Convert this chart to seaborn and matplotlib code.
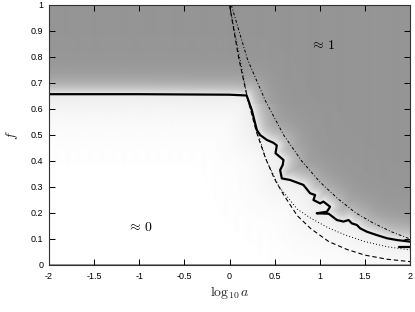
import numpy as np
import pandas as pd
import matplotlib
matplotlib.use("Agg")
import matplotlib.pyplot as plt
from matplotlib.path import Path
import seaborn as sns

# ---------------- data ----------------
# solid (jagged) boundary line: log10 a, f
bound_x = [-2.0, -1.0, 0.0, 0.19, 0.247, 0.284, 0.303, 0.339, 0.414, 0.487, 0.524,
           0.51, 0.598, 0.59, 0.561, 0.58, 0.672, 0.819, 0.893, 0.949, 0.93, 1.004,
           1.04, 1.115, 1.079, 0.967, 1.10, 1.19, 1.263, 1.319, 1.356, 1.411, 1.448,
           1.522, 1.633, 1.744, 1.855, 2.0]
bound_f = [0.657, 0.657, 0.655, 0.652, 0.596, 0.545, 0.519, 0.50, 0.481, 0.47, 0.46,
           0.43, 0.404, 0.385, 0.365, 0.333, 0.327, 0.308, 0.276, 0.269, 0.25, 0.237,
           0.244, 0.224, 0.205, 0.199, 0.197, 0.173, 0.167, 0.173, 0.16, 0.154, 0.141,
           0.128, 0.115, 0.103, 0.096, 0.09]
# short extra piece of the boundary at the right edge
tail_x = [1.88, 2.0]
tail_f = [0.07, 0.07]

# dashed curve
dash_x = [0.0, 0.1, 0.2, 0.3, 0.4, 0.5, 0.6, 0.75, 0.9, 1.1, 1.3, 1.5, 1.75, 2.0]
dash_f = [1.0, 0.80, 0.64, 0.51, 0.41, 0.33, 0.27, 0.19, 0.14, 0.09, 0.06, 0.038, 0.022, 0.013]

# dash-dot curve
dd_x = [0.02, 0.2, 0.4, 0.6, 0.8, 1.0, 1.2, 1.4, 1.6, 1.8, 2.0]
dd_f = [1.0, 0.79, 0.63, 0.50, 0.40, 0.32, 0.255, 0.20, 0.16, 0.127, 0.10]

# dotted curve
dot_x = [0.0, 0.2, 0.4, 0.55, 0.6, 0.75, 0.9, 1.1, 1.3, 1.5, 1.75, 2.0]
dot_f = [1.0, 0.64, 0.41, 0.30, 0.28, 0.215, 0.18, 0.142, 0.113, 0.09, 0.07, 0.058]

# region labels
label_text = [r"$\approx\,1$", r"$\approx\,0$"]
label_x = [1.03, -0.99]
label_f = [0.846, 0.146]

xticks = [-2, -1.5, -1, -0.5, 0, 0.5, 1, 1.5, 2]
xticklabels = ["-2", "-1.5", "-1", "-0.5", "0", "0.5", "1", "1.5", "2"]
yticks = [0, 0.1, 0.2, 0.3, 0.4, 0.5, 0.6, 0.7, 0.8, 0.9, 1]
yticklabels = ["0", "0.1", "0.2", "0.3", "0.4", "0.5", "0.6", "0.7", "0.8", "0.9", "1"]

GRAY = 0.585  # brightness of the "≈ 1" region

# ---------------- style ----------------
sns.set_style("ticks")
plt.rcParams["font.family"] = ["Liberation Sans", "DejaVu Sans"]
plt.rcParams["mathtext.fontset"] = "cm"

fig = plt.figure(figsize=(4.15, 3.12), dpi=100)
ax = fig.add_axes([49 / 415, 47 / 312, 361 / 415, 260 / 312])

# ---------------- background field built from the boundary ----------------
nx, ny = 361, 260
sx, sy = 361 / 4.0, 260.0  # pixels per data unit
gx = np.linspace(-2, 2, nx)
gy = np.linspace(0, 1, ny)
GX, GY = np.meshgrid(gx, gy)
pts = np.column_stack([GX.ravel(), GY.ravel()])

poly = list(zip(bound_x, bound_f)) + [(2.0, 0.0), (-2.0, 0.0)]
inside = Path(poly).contains_points(pts).reshape(GX.shape)

bx = np.array(bound_x) * sx
bf = np.array(bound_f) * sy
PX, PY = GX * sx, GY * sy
dist = np.full(GX.shape, np.inf)
for i in range(len(bx) - 1):
    ax0, ay0, ax1, ay1 = bx[i], bf[i], bx[i + 1], bf[i + 1]
    vx, vy = ax1 - ax0, ay1 - ay0
    L2 = vx * vx + vy * vy
    t = np.clip(((PX - ax0) * vx + (PY - ay0) * vy) / L2, 0, 1)
    d = np.hypot(PX - (ax0 + t * vx), PY - (ay0 + t * vy))
    dist = np.minimum(dist, d)

lam = np.where(GY > 0.62, 10.0, 12.0)
out_val = GRAY + (1 - GRAY) * 0.85 * np.exp(-dist / lam)
in_val = 1 - (1 - GRAY) * 0.18 * np.exp(-dist / 24.0)
field = np.where(inside, in_val, out_val)

ax.imshow(field, origin="lower", extent=[-2, 2, 0, 1], cmap="gray",
          vmin=0, vmax=1, aspect="auto", interpolation="bilinear", zorder=0)

# ---------------- curves ----------------
def draw(xs, fs, **kw):
    df = pd.DataFrame({"x": xs, "f": fs})
    sns.lineplot(data=df, x="x", y="f", ax=ax, sort=False, estimator=None,
                 color="black", **kw)

draw(dash_x, dash_f, lw=0.8, linestyle=(0, (4, 2.5)))
draw(dot_x, dot_f, lw=0.7, linestyle=(0, (1, 2.2)))
draw(dd_x, dd_f, lw=0.7, linestyle=(0, (3, 2, 1, 2)))
draw(bound_x, bound_f, lw=1.6)
draw(tail_x, tail_f, lw=1.6)

for t, x, y in zip(label_text, label_x, label_f):
    ax.text(x, y, t, ha="center", va="center", fontsize=10, color="black")

# ---------------- axes ----------------
ax.set_xlim(-2, 2)
ax.set_ylim(0, 1)
ax.set_xticks(xticks)
ax.set_xticklabels(xticklabels)
ax.set_yticks(yticks)
ax.set_yticklabels(yticklabels)
ax.tick_params(direction="in", length=4, width=0.7, labelsize=6.5,
               top=True, right=True, colors="black", pad=4)
ax.tick_params(axis="x", pad=5)
for s in ax.spines.values():
    s.set_linewidth(0.8)
    s.set_color("#333333")
ax.set_xlabel(r"$\log_{10} a$", fontsize=10, labelpad=2)
ax.set_ylabel(r"$f$", fontsize=10, labelpad=8)

fig.savefig("out.png", dpi=100)
